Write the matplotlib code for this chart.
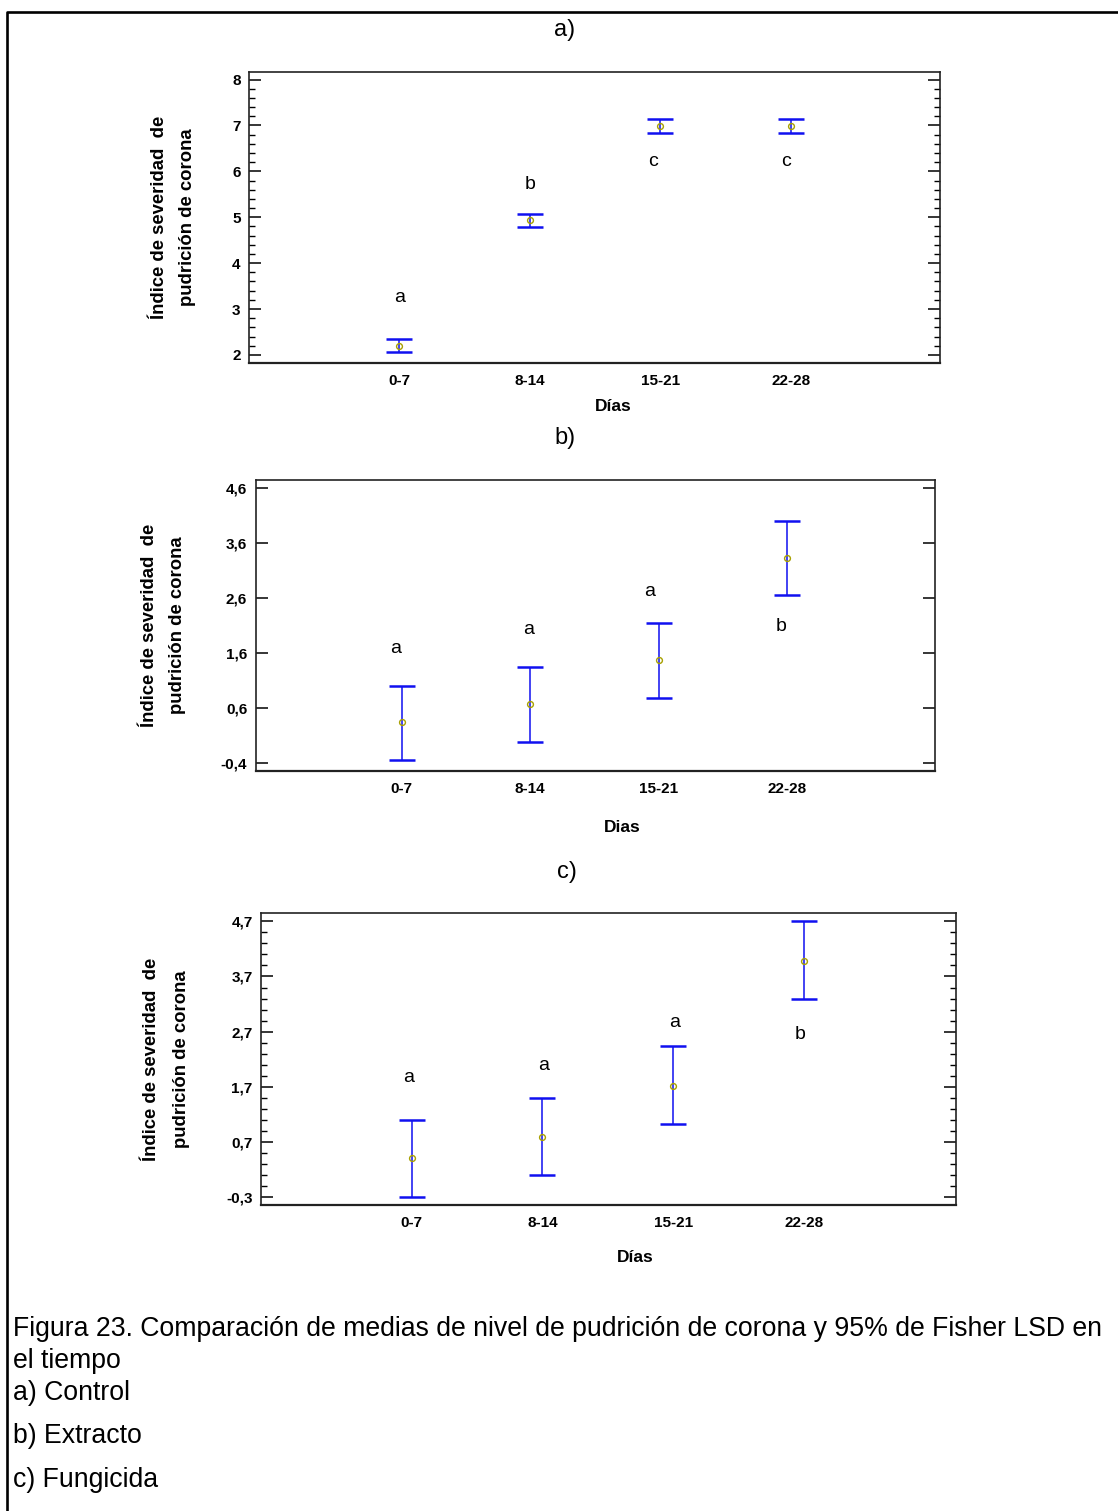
import matplotlib
matplotlib.use('Agg')
import matplotlib.pyplot as plt
from matplotlib.lines import Line2D
from matplotlib.ticker import FixedLocator, FuncFormatter
import numpy as np

plt.rcParams['font.family'] = ['Liberation Sans', 'DejaVu Sans']

# ---------------- data ----------------
categories = ['0-7', '8-14', '15-21', '22-28']

# a) Control
means_a = [2.20, 4.93, 6.99, 6.99]
lower_a = [2.065, 4.78, 6.84, 6.84]
upper_a = [2.356, 5.08, 7.145, 7.145]
letters_a = ['a', 'b', 'c', 'c']
letter_y_a = [3.25, 5.72, 6.22, 6.22]
yticks_a = [2, 3, 4, 5, 6, 7, 8]

# b) Extracto
means_b = [0.335, 0.663, 1.465, 3.336]
lower_b = [-0.345, -0.017, 0.785, 2.656]
upper_b = [1.003, 1.338, 2.146, 4.011]
letters_b = ['a', 'a', 'a', 'b']
letter_y_b = [1.684, 2.036, 2.72, 2.08]
yticks_b = [-0.4, 0.6, 1.6, 2.6, 3.6, 4.6]

# c) Fungicida
means_c = [0.414, 0.79, 1.722, 3.986]
lower_c = [-0.30, 0.10, 1.032, 3.296]
upper_c = [1.104, 1.504, 2.436, 4.70]
letters_c = ['a', 'a', 'a', 'b']
letter_y_c = [1.873, 2.079, 2.86, 2.642]
yticks_c = [-0.3, 0.7, 1.7, 2.7, 3.7, 4.7]

ylabel_lines = ['Índice de severidad  de', 'pudrición de corona']
caption_lines = [
    'Figura 23. Comparación de medias de nivel de pudrición de corona y 95% de Fisher LSD en',
    'el tiempo',
    'a) Control',
    'b) Extracto',
    'c) Fungicida',
]

# ---------------- figure ----------------
W, H = 1118, 1511
fig = plt.figure(figsize=(W / 100, H / 100), dpi=100)
fig.patch.set_facecolor('white')


def fx(px):
    return px / W


def fy(py):
    return 1 - py / H


# frame lines (left and top border)
fig.add_artist(Line2D([fx(7), fx(7), fx(W)], [fy(H), fy(12), fy(12)],
                      color='black', lw=1.9, transform=fig.transFigure))


def comma_fmt(decimals):
    def f(v, pos):
        return f'{v:.{decimals}f}'.replace('.', ',')
    return FuncFormatter(f)


def make_panel(box, ylim, xlim, means, lower, upper, letters, letter_y,
               letter_dx, yticks, minor_step, decimals, title, title_xy,
               ylab_x, xlabel, xlabel_xy):
    l, r, t, b = box
    ax = fig.add_axes([fx(l), fy(b), fx(r) - fx(l), fy(t) - fy(b)])
    x = np.arange(1, len(categories) + 1)
    means = np.array(means)
    lo = means - np.array(lower)
    hi = np.array(upper) - means
    line, caps, bars = ax.errorbar(x, means, yerr=[lo, hi], fmt='none',
                                   ecolor='#1010f0', elinewidth=1.1,
                                   capsize=9.5, capthick=1.8)
    for c in caps:
        c.set_color('#5a5aff')
    ax.plot(x, means, 'o', ms=4.2, mfc='none', mec='#a8a000', mew=1.0)
    for xi, dx, s, yv in zip(x, letter_dx, letters, letter_y):
        ax.text(xi + dx, yv, s, ha='center', va='center', fontsize=14)
    ax.set_xlim(*xlim)
    ax.set_ylim(*ylim)
    ax.set_xticks(x)
    ax.set_xticklabels(categories, fontsize=11, fontweight='bold')
    ax.tick_params(axis='x', length=0, pad=8)
    ax.yaxis.set_major_locator(FixedLocator(yticks))
    ax.yaxis.set_major_formatter(comma_fmt(decimals))
    if minor_step:
        mn = np.arange(yticks[0] - 5 * minor_step, yticks[-1] + 5 * minor_step, minor_step)
        mn = [v for v in mn if ylim[0] <= v <= ylim[1]]
        ax.yaxis.set_minor_locator(FixedLocator(mn))
    ax.tick_params(axis='y', which='major', direction='in', length=8.5,
                   width=1.1, left=True, right=True, pad=6)
    ax.tick_params(axis='y', which='minor', direction='in', length=4.3,
                   width=1.0, left=True, right=True)
    for lab in ax.get_yticklabels():
        lab.set_fontsize(11)
        lab.set_fontweight('bold')
    for sp in ax.spines.values():
        sp.set_linewidth(1.2)
        sp.set_color('#222222')
    ax.spines['bottom'].set_linewidth(1.6)
    # title
    fig.text(fx(title_xy[0]), fy(title_xy[1]), title, ha='center', va='center',
             fontsize=17)
    # y label
    ymid = (t + b) / 2
    for lx, s in zip(ylab_x, ylabel_lines):
        fig.text(fx(lx), fy(ymid), s, rotation=90, ha='center', va='center',
                 fontsize=13.3, fontweight='bold')
    fig.text(fx(xlabel_xy[0]), fy(xlabel_xy[1]), xlabel, ha='center',
             va='center', fontsize=12.5, fontweight='bold')
    return ax


make_panel((249, 940, 72, 362.7), (1.83, 8.165), (-0.15, 5.14),
           means_a, lower_a, upper_a, letters_a, letter_y_a,
           [0.0, 0.0, -0.06, -0.04], yticks_a, 0.2, 0, 'a)', (565, 30),
           (159, 187), 'Días', (613, 407))

make_panel((255.5, 934.7, 480, 771), (-0.55, 4.75), (-0.14, 5.15),
           means_b, lower_b, upper_b, letters_b, letter_y_b,
           [-0.045, -0.015, -0.07, -0.045], yticks_b, None, 1, 'b)', (565, 438),
           (150, 177), 'Dias', (622, 827))

make_panel((261, 956, 913, 1205), (-0.44, 4.85), (-0.15, 5.16),
           means_c, lower_c, upper_c, letters_c, letter_y_c,
           [-0.02, 0.01, 0.01, -0.03], yticks_c, 0.2, 1, 'c)', (567, 872),
           (151.5, 182), 'Días', (635, 1258))

caption_baselines = [1336, 1368, 1400, 1443, 1487]
for yy, s in zip(caption_baselines, caption_lines):
    fig.text(fx(13), fy(yy), s, ha='left', va='baseline', fontsize=19.2)

fig.savefig('out.png', dpi=100, facecolor='white')
